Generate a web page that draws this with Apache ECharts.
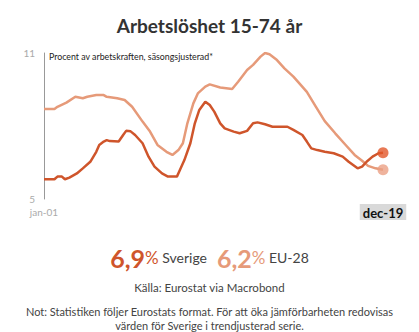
<!DOCTYPE html>
<html><head><meta charset="utf-8">
<script src="https://cdn.jsdelivr.net/npm/echarts@6/dist/echarts.min.js"></script>
<style>html,body{margin:0;padding:0;background:#fff}#c{width:419px;height:332px}</style>
</head><body><div id="c"></div>
<script>
// ---- data ----
const sverigeDates = ['2001-01','2001-08','2001-10','2002-01','2002-03','2002-06','2002-11','2003-03','2003-08','2003-12','2004-02','2004-05','2004-07','2004-09','2005-03','2005-06','2005-08','2005-11','2006-02','2006-07','2006-11','2007-03','2007-08','2007-12','2008-06','2008-08','2008-11','2009-03','2009-06','2009-09','2010-01','2010-04','2010-07','2010-11','2011-02','2011-08','2011-12','2012-05','2012-09','2012-12','2013-05','2013-10','2014-08','2014-12','2015-06','2015-09','2015-12','2016-04','2016-09','2017-03','2017-09','2018-01','2018-07','2018-10','2019-01','2019-05','2019-09','2019-12'];
const sverigeValues = [5.81,5.81,5.92,5.92,5.81,5.88,6.05,6.26,6.53,6.94,7.22,7.36,7.42,7.38,7.36,7.63,7.80,7.78,7.63,7.29,6.74,6.33,6.05,5.92,5.92,6.19,6.60,7.29,8.11,8.66,9.00,8.86,8.59,8.11,7.90,7.77,7.70,7.80,8.11,8.15,8.07,7.97,7.97,7.84,7.63,7.36,7.08,7.01,6.94,6.88,6.74,6.53,6.26,6.33,6.53,6.74,6.88,6.9];
const euDates = ['2001-01','2001-08','2001-10','2002-04','2002-10','2003-03','2003-06','2003-12','2004-05','2004-07','2005-02','2005-07','2005-12','2006-07','2006-12','2007-05','2007-11','2008-03','2008-07','2008-10','2009-01','2009-05','2009-08','2010-01','2010-04','2010-11','2011-07','2011-11','2012-05','2012-09','2013-02','2013-05','2013-08','2014-01','2014-06','2014-12','2015-04','2015-09','2016-03','2016-09','2017-04','2017-11','2018-05','2018-10','2019-02','2019-07','2019-12'];
const euValues = [8.70,8.70,8.79,8.96,9.20,9.14,9.20,9.27,9.27,9.20,9.14,9.07,8.79,8.18,7.77,7.22,6.94,6.81,7.01,7.29,8.11,8.93,9.34,9.62,9.71,9.58,9.52,9.82,10.30,10.51,10.85,11.00,10.95,10.71,10.37,10.03,9.75,9.40,8.80,8.20,7.70,7.22,6.81,6.57,6.36,6.26,6.2];
const yTicks = [5, 11];
const xTickLabels = ['jan-01', 'dec-19'];
const seriesNames = ['Sverige', 'EU-28'];

// category axis of months jan-01 .. dec-19
const months = [];
for (let y = 2001; y <= 2019; y++) for (let m = 1; m <= 12; m++) months.push(y + '-' + String(m).padStart(2, '0'));

const cSe = '#cf552b', cEu = '#e69a79';
const cSeDot = '#e2582a', cEuDot = '#eba084';
const FONT = 'Lato';
const fmt = v => v.toFixed(1).replace('.', ',');
const lastSe = sverigeValues[sverigeValues.length - 1];
const lastEu = euValues[euValues.length - 1];
const plain = {fontFamily: FONT, fontWeight: 'normal', color: '#444'};

const chart = echarts.init(document.getElementById('c'), null, {renderer: 'svg'});
chart.setOption({
  animation: false,
  textStyle: {fontFamily: FONT},
  title: [
    {text: 'Arbetslöshet 15-74 år', left: 'center', top: 11,
     textStyle: {fontFamily: FONT, fontSize: 19, fontWeight: 'bold', color: '#333'}},
    {text: 'Procent av arbetskraften, säsongsjusterad*', left: 44, top: 47,
     textStyle: {fontFamily: FONT, fontSize: 8.8, fontWeight: 'normal', color: '#222'}},
    {text: '{a|' + fmt(lastSe) + '}{p|%}{s| ' + seriesNames[0] + '}{g| }{b|' + fmt(lastEu) + '}{q|%}{s| ' + seriesNames[1] + '}',
     left: 'center', top: 240,
     textStyle: {fontWeight: 'normal', rich: {
       a: {fontFamily: FONT, fontSize: 25, fontWeight: 'bold', color: cSe},
       p: {fontFamily: FONT, fontSize: 17, fontWeight: 'normal', color: cSe},
       b: {fontFamily: FONT, fontSize: 25, fontWeight: 'bold', color: cEu},
       q: {fontFamily: FONT, fontSize: 17, fontWeight: 'normal', color: cEu},
       s: {fontFamily: FONT, fontSize: 14, fontWeight: 'normal', color: '#444'},
       g: {fontSize: 14, width: 10}
     }}},
    {text: 'Källa: Eurostat via Macrobond', left: 'center', top: 276,
     textStyle: Object.assign({fontSize: 11.5}, plain)},
    {text: 'Not: Statistiken följer Eurostats format. För att öka jämförbarheten redovisas', left: 'center', top: 301,
     textStyle: Object.assign({fontSize: 11}, plain)},
    {text: 'värden för Sverige i trendjusterad serie.', left: 'center', top: 315,
     textStyle: Object.assign({fontSize: 11}, plain)}
  ],
  grid: {left: 44, right: 36, top: 53, bottom: 133},
  xAxis: {
    type: 'category', data: months, boundaryGap: false,
    axisLine: {show: false}, axisTick: {show: false}, splitLine: {show: false},
    axisLabel: {
      interval: (i) => i === 0 || i === months.length - 1,
      margin: 5,
      formatter: (v, i) => i === 0 ? '{a|' + xTickLabels[0] + '}' : '{b|' + xTickLabels[1] + '}',
      rich: {
        a: {fontFamily: FONT, fontSize: 10, color: '#aaa', padding: [3, 0, 3, 0]},
        b: {fontFamily: FONT, fontSize: 13, fontWeight: 'bold', color: '#111', backgroundColor: '#d9d9d9', padding: [2, 3, 1, 3]}
      }
    }
  },
  yAxis: {
    type: 'value', min: yTicks[0], max: yTicks[1], interval: 1,
    axisLine: {show: true, lineStyle: {color: '#999', width: 1}},
    axisTick: {show: false}, splitLine: {show: false},
    axisLabel: {margin: 9, color: '#aaa', fontSize: 10, fontFamily: FONT,
      formatter: v => yTicks.includes(v) ? String(v) : ''}
  },
  series: [
    {name: seriesNames[1], type: 'line', data: euDates.map((d, i) => [d, euValues[i]]),
     showSymbol: false, lineStyle: {color: cEu, width: 2.5}, itemStyle: {color: cEu}},
    {name: seriesNames[0], type: 'line', data: sverigeDates.map((d, i) => [d, sverigeValues[i]]),
     showSymbol: false, lineStyle: {color: cSe, width: 2.5}, itemStyle: {color: cSe}},
    {type: 'scatter', symbolSize: 11, z: 5,
     data: [{value: [euDates[euDates.length - 1], lastEu], itemStyle: {color: cEuDot}},
            {value: [sverigeDates[sverigeDates.length - 1], lastSe], itemStyle: {color: cSeDot}}]}
  ]
});
</script></body></html>
